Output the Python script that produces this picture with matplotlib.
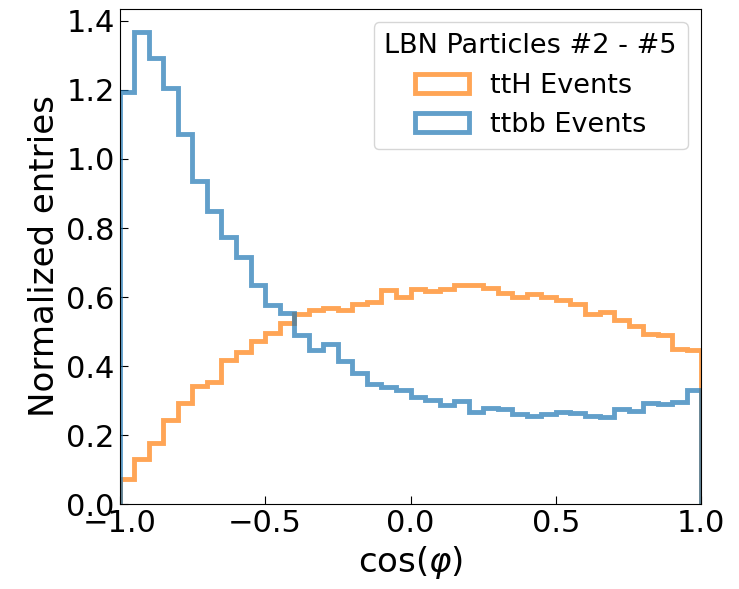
import numpy as np
from matplotlib import pyplot as plt

# cos(phi) binning: 40 equal bins in [-1, 1]
bin_edges = np.linspace(-1.0, 1.0, 41)

tth_values = [
    0.074, 0.130, 0.178, 0.245, 0.292, 0.343, 0.355, 0.417, 0.441, 0.473,
    0.497, 0.524, 0.550, 0.562, 0.567, 0.562, 0.580, 0.586, 0.620, 0.601,
    0.622, 0.618, 0.623, 0.636, 0.636, 0.627, 0.611, 0.599, 0.608, 0.601,
    0.591, 0.580, 0.550, 0.557, 0.533, 0.517, 0.492, 0.490, 0.449, 0.446,
]
ttbb_values = [
    1.194, 1.367, 1.292, 1.207, 1.073, 0.936, 0.850, 0.775, 0.715, 0.634,
    0.578, 0.553, 0.491, 0.446, 0.463, 0.415, 0.379, 0.349, 0.340, 0.332,
    0.311, 0.301, 0.287, 0.299, 0.266, 0.280, 0.277, 0.261, 0.256, 0.261,
    0.268, 0.265, 0.256, 0.253, 0.277, 0.270, 0.292, 0.290, 0.295, 0.330,
]

centers = 0.5 * (bin_edges[:-1] + bin_edges[1:])

fig = plt.figure(figsize=(7.39, 5.89), dpi=100)
ax = fig.add_axes([0.162, 0.144, 0.787, 0.841])

ax.hist(centers, bins=bin_edges, weights=tth_values, histtype='step',
        linewidth=3.5, color='tab:orange', alpha=0.7, label='ttH Events')
ax.hist(centers, bins=bin_edges, weights=ttbb_values, histtype='step',
        linewidth=3.5, color='tab:blue', alpha=0.7, label='ttbb Events')

ax.set_xlim(-1.0, 1.0)
ax.set_ylim(0, 1.435)
ax.set_xticks([-1.0, -0.5, 0.0, 0.5, 1.0])
ax.set_yticks(np.arange(0, 1.41, 0.2))
ax.tick_params(direction='in', labelsize=22, length=6)
ax.set_xlabel(r'cos($\varphi$)', fontsize=24.5)
ax.set_ylabel('Normalized entries', fontsize=24.5)

ax.legend(title='LBN Particles #2 - #5', fontsize=19.5, title_fontsize=19.5,
          loc='upper right', borderaxespad=0.5)

fig.savefig('out.png', dpi=100)
